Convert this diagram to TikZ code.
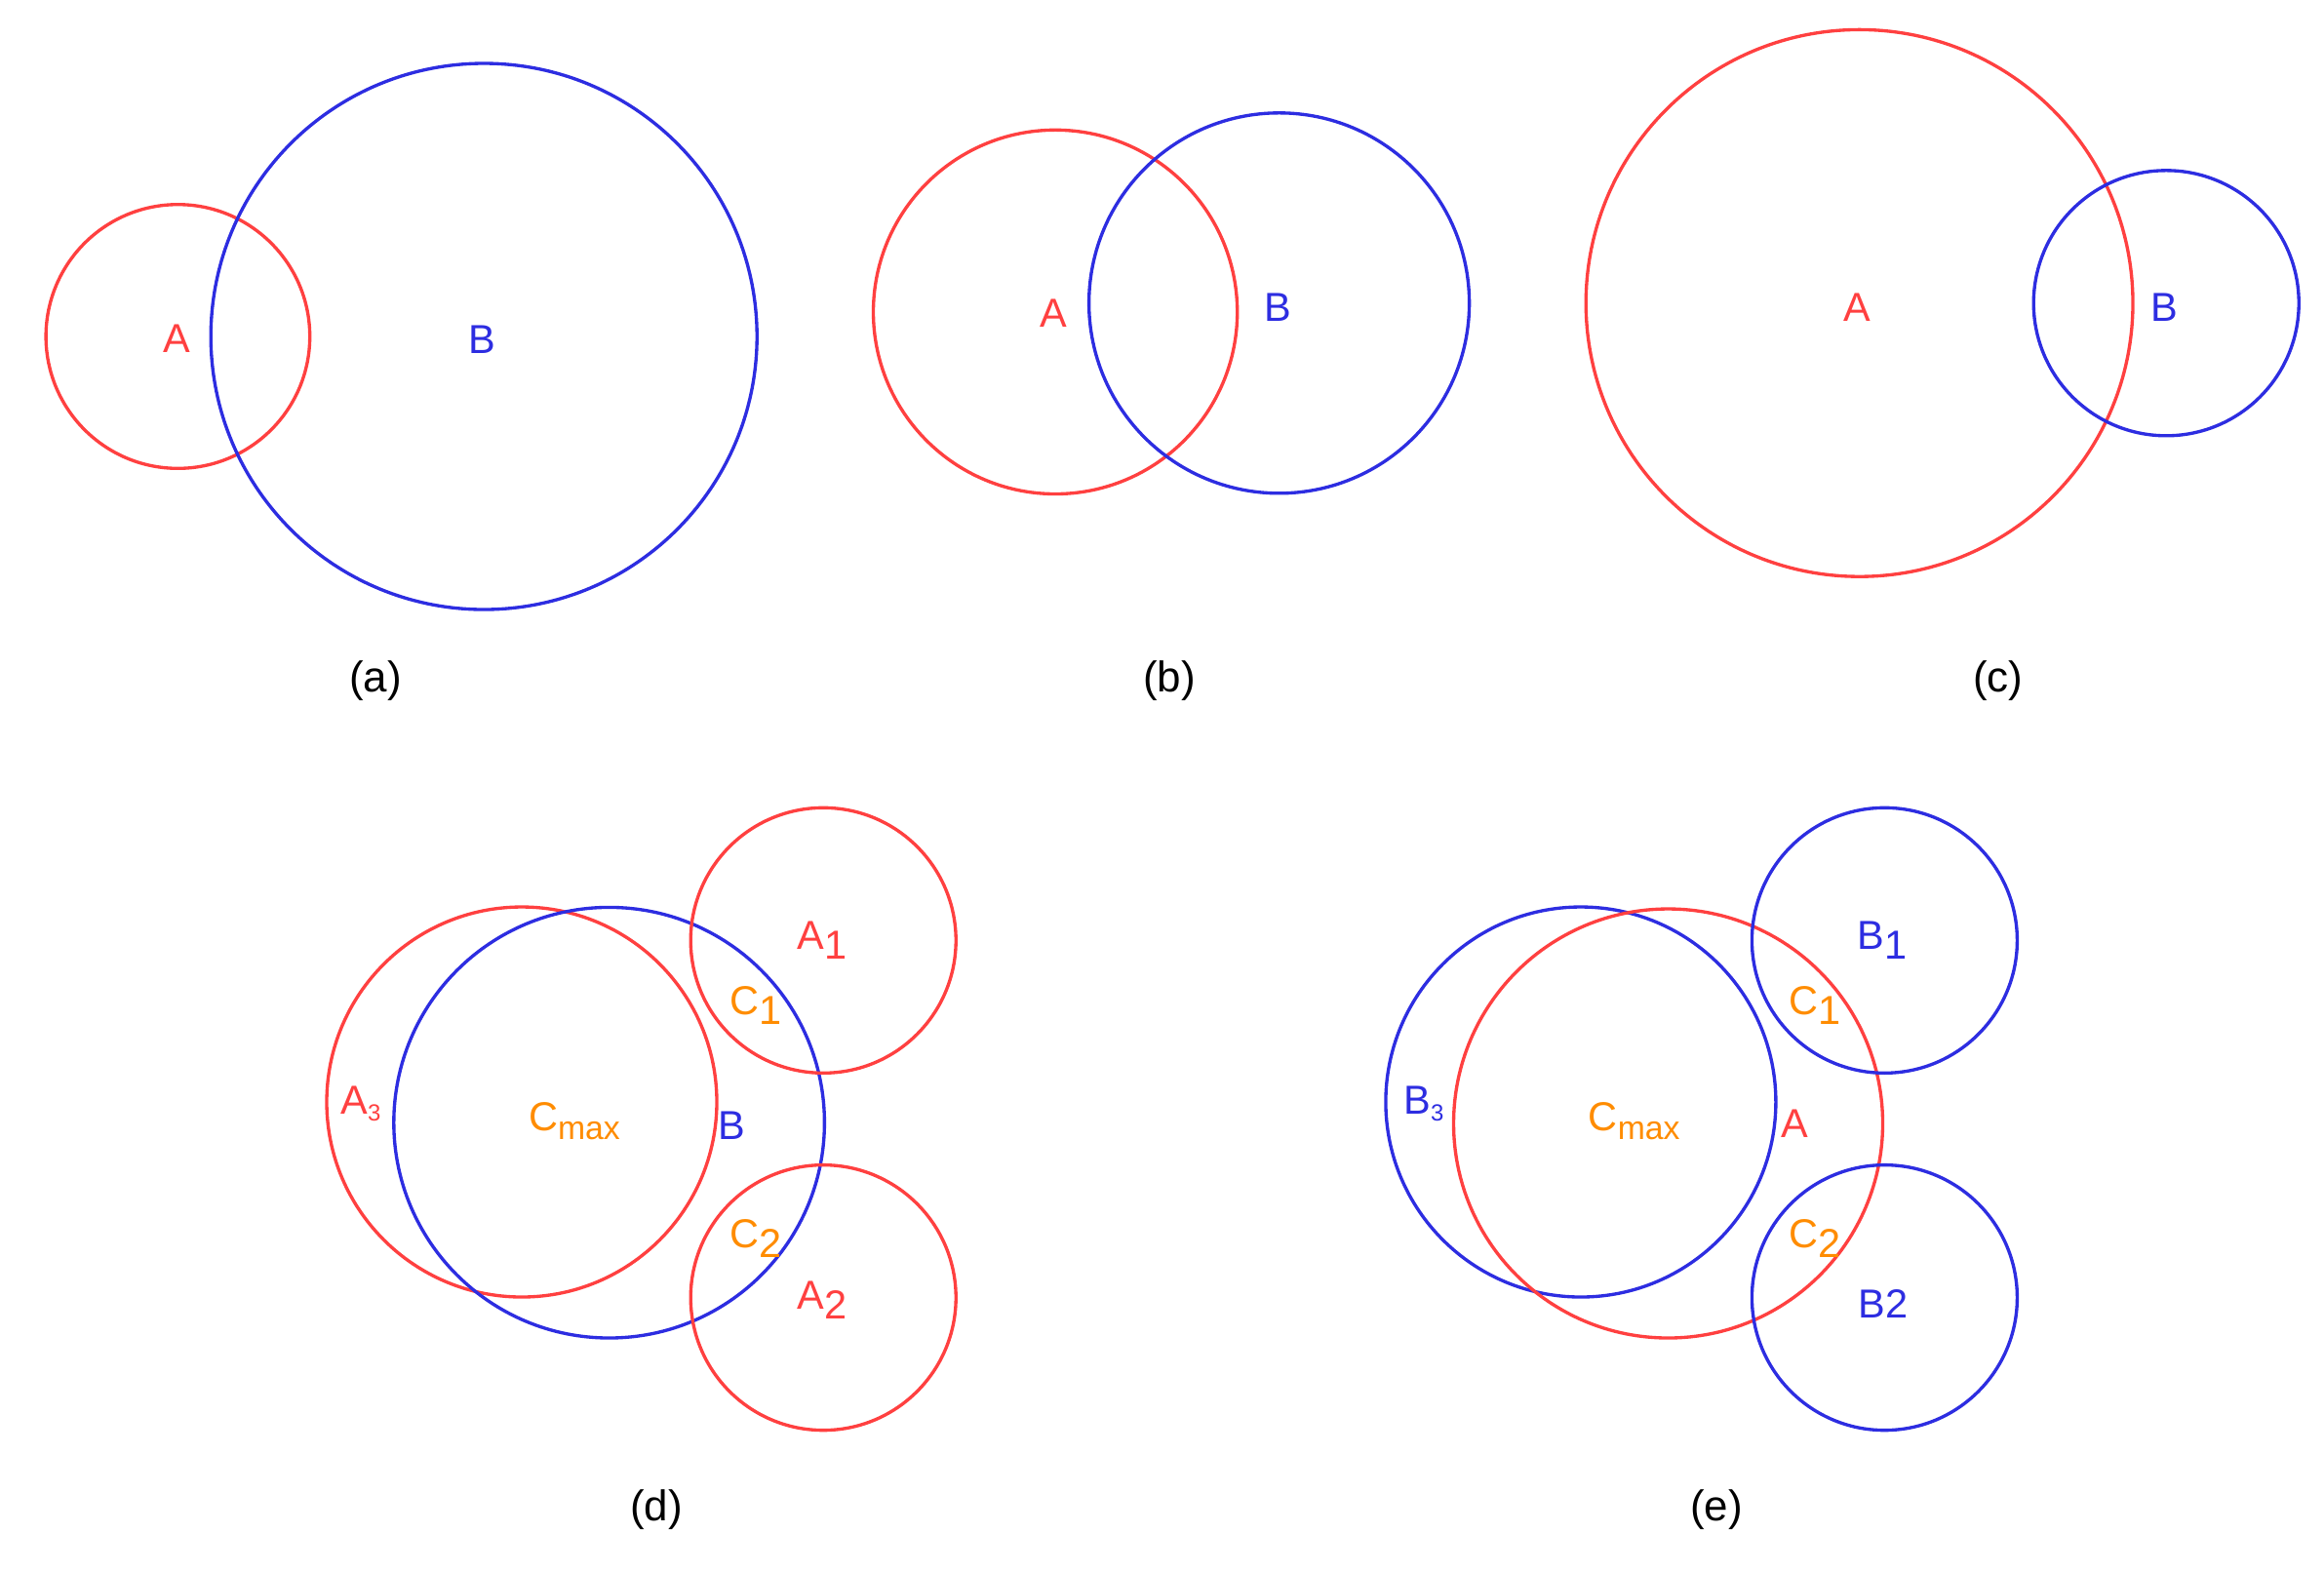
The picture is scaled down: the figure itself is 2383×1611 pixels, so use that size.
\documentclass[tikz,border=0pt]{standalone}
\usepackage{fontspec}
\setmainfont{Liberation Sans}
\definecolor{cred}{RGB}{255,64,64}
\definecolor{cblue}{RGB}{45,45,225}
\definecolor{corange}{RGB}{255,140,0}
\newcommand{\bigsub}[1]{\raisebox{-0.1cm}{#1}}
\newcommand{\smallsub}[1]{\raisebox{-0.07cm}{\fontsize{6.8}{7}\selectfont #1}}
\newcommand{\maxsub}[1]{\raisebox{-0.09cm}{\fontsize{9.6}{10}\selectfont #1}}
\begin{document}
\begin{tikzpicture}[x=0.01cm,y=-0.01cm,
  redc/.style={draw=cred,line width=0.95pt},
  bluec/.style={draw=cblue,line width=0.95pt},
  lbl/.style={inner sep=0pt,anchor=base,font=\fontsize{11.8}{13}\selectfont},
  rlbl/.style={lbl,text=cred},
  blbl/.style={lbl,text=cblue},
  olbl/.style={lbl,text=corange},
  capstyle/.style={inner sep=0pt,font=\fontsize{12.5}{14}\selectfont,text=black}]
\useasboundingbox (0,0) rectangle (2383,1611);
% (a)
\draw[redc] (182.4,345) circle (135.3);
\draw[bluec] (496.2,345) circle (280);
\node[rlbl] (aA) at (181.5,361.7) {A};
\node[blbl] (aB) at (494,362.5) {B};
\node[capstyle] (capa) at (385,698) {(a)};
% (b)
\draw[redc] (1082.1,319.9) circle (186.6);
\draw[bluec] (1311.6,310.8) circle (195);
\node[rlbl] (bA) at (1080.6,335) {A};
\node[blbl] (bB) at (1310,329) {B};
\node[capstyle] (capb) at (1199,698) {(b)};
% (c)
\draw[redc] (1906.6,310.8) circle (280.4);
\draw[bluec] (2221.2,310.8) circle (136);
\node[rlbl] (cA) at (1904,329) {A};
\node[blbl] (cB) at (2219,329) {B};
\node[capstyle] (capc) at (2048.7,698) {(c)};
% (d)
\draw[redc] (535,1130) circle (200);
\draw[bluec] (624.6,1151.2) circle (220.8);
\draw[redc] (844.2,964.3) circle (136);
\draw[redc] (844.2,1330.6) circle (136);
\node[rlbl] (dA1) at (843,973) {A\bigsub{1}};
\node[olbl] (dC1) at (775,1040) {C\bigsub{1}};
\node[rlbl] (dA3) at (370,1142.7) {A\smallsub{3}};
\node[olbl] (dCm) at (589,1159) {C\maxsub{max}};
\node[blbl] (dB) at (750.8,1168) {B};
\node[olbl] (dC2) at (775,1279) {C\bigsub{2}};
\node[rlbl] (dA2) at (843,1342.5) {A\bigsub{2}};
\node[capstyle] (capd) at (673,1548) {(d)};
% (e)
\draw[bluec] (1620.9,1130) circle (200);
\draw[redc] (1710.5,1152) circle (220);
\draw[bluec] (1932.4,964.3) circle (136);
\draw[bluec] (1932.4,1330.6) circle (136);
\node[blbl] (eB1) at (1930,973.3) {B\bigsub{1}};
\node[olbl] (eC1) at (1861,1040) {C\bigsub{1}};
\node[blbl] (eB3) at (1460,1142.7) {B\smallsub{3}};
\node[olbl] (eCm) at (1675.7,1159) {C\maxsub{max}};
\node[rlbl] (eA) at (1840.5,1166.7) {A};
\node[olbl] (eC2) at (1861,1279) {C\bigsub{2}};
\node[blbl] (eB2) at (1931,1351.7) {B2};
\node[capstyle] (cape) at (1760,1548) {(e)};
\end{tikzpicture}
\end{document}
